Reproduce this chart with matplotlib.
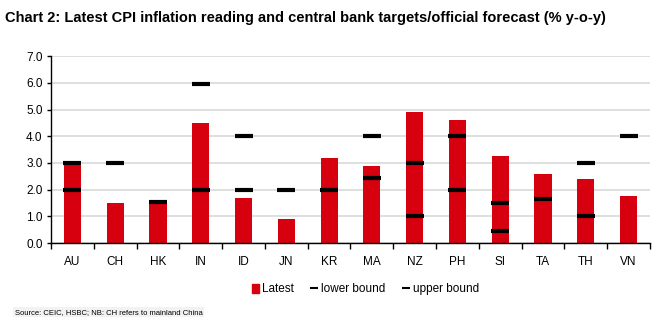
import numpy as np
import matplotlib.pyplot as plt
from matplotlib.lines import Line2D
from matplotlib.patches import Patch

plt.rcParams['font.family'] = ['Liberation Sans', 'DejaVu Sans']

countries = ['AU', 'CH', 'HK', 'IN', 'ID', 'JN', 'KR', 'MA', 'NZ', 'PH', 'SI', 'TA', 'TH', 'VN']
latest = [2.95, 1.5, 1.6, 4.5, 1.7, 0.9, 3.2, 2.9, 4.9, 4.6, 3.25, 2.6, 2.4, 1.75]
lower_bound = [2.0, np.nan, 1.55, 2.0, 2.0, 2.0, 2.0, 2.45, 1.0, 2.0, 0.45, 1.65, 1.0, np.nan]
upper_bound = [3.0, 3.0, np.nan, 5.95, 4.0, np.nan, np.nan, 4.0, 3.0, 4.0, 1.5, np.nan, 3.0, 4.0]

red = '#d7000f'

fig = plt.figure(figsize=(6.69, 3.28), dpi=100)
ax = fig.add_axes([0.0762, 0.259, 0.8954, 0.570])

x = np.arange(len(countries))
ax.bar(x, latest, width=0.4, color=red, zorder=2)
# bounds drawn as short black dashes
ax.plot(x, lower_bound, linestyle='none', marker='_', markersize=12.5, mew=3.0, color='black', zorder=3)
ax.plot(x, upper_bound, linestyle='none', marker='_', markersize=12.5, mew=3.0, color='black', zorder=3)

ax.set_xlim(-0.5, len(countries) - 0.5)
ax.set_ylim(0, 7)
ax.set_yticks(np.arange(0, 7.1, 1.0))
ax.set_yticklabels([f'{v:.1f}' for v in np.arange(0, 7.1, 1.0)], fontsize=8.5)
ax.set_xticks(x)
ax.set_xticklabels(countries, fontsize=8.5)
ax.set_xticks(np.arange(-0.5, len(countries), 1.0), minor=True)
ax.tick_params(axis='x', which='major', length=0, pad=9)
ax.tick_params(axis='x', which='minor', length=4, width=1, direction='out')
ax.tick_params(axis='y', length=3, width=1, pad=3)

ax.yaxis.grid(True, color='#d9d9d9', linewidth=1.2, zorder=0)
ax.set_axisbelow(True)
for s in ['top', 'right']:
    ax.spines[s].set_visible(False)
ax.spines['left'].set_linewidth(1)
ax.spines['bottom'].set_linewidth(1)

fig.text(0.008, 0.945, 'Chart 2: Latest CPI inflation reading and central bank targets/official forecast (% y-o-y)',
         fontsize=10.5, fontweight='bold', ha='left', va='center')

handles = [
    Patch(facecolor=red, edgecolor=red),
    Line2D([], [], linestyle='none', marker='_', markersize=6, mew=1.5, color='black'),
    Line2D([], [], linestyle='none', marker='_', markersize=6, mew=1.5, color='black'),
]
fig.legend(handles, ['Latest', 'lower bound', 'upper bound'], loc='center', bbox_to_anchor=(0.546, 0.118),
           ncol=3, frameon=False, fontsize=8.5, handlelength=0.6, handleheight=0.8,
           handletextpad=0.3, columnspacing=1.4)

fig.text(0.022, 0.048, 'Source: CEIC, HSBC; NB: CH refers to mainland China', fontsize=5.5,
         ha='left', va='center', bbox=dict(facecolor='#f2f2f2', edgecolor='none', pad=1))

fig.savefig('out.png', dpi=100)
